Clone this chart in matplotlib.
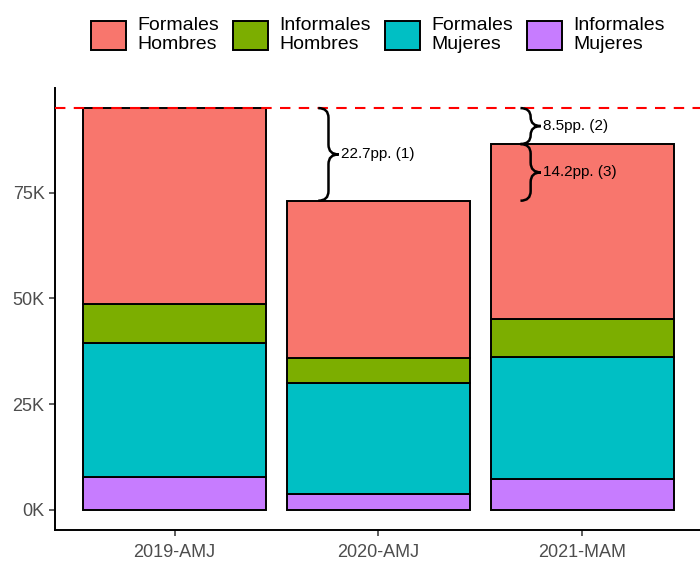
import numpy as np
import matplotlib.pyplot as plt
from matplotlib.path import Path
from matplotlib.patches import PathPatch
from matplotlib.ticker import FuncFormatter

plt.rcParams['font.family'] = ['Liberation Sans', 'DejaVu Sans']

periods = ["2019-AMJ", "2020-AMJ", "2021-MAM"]
# thousands of people, bottom to top of the stack
inf_mujeres = [7.8, 3.8, 7.2]
for_mujeres = [31.7, 26.3, 28.9]
inf_hombres = [9.3, 5.9, 9.0]
for_hombres = [46.2, 37.1, 41.4]
series_names = ["Formales\nHombres", "Informales\nHombres", "Formales\nMujeres", "Informales\nMujeres"]
brace_labels = ["22.7pp. (1)", "8.5pp. (2)", "14.2pp. (3)"]

colors = ["#F8766D", "#7CAE00", "#00BFC4", "#C77CFF"]


def brace(ax, x0, y0, y1, w, r):
    # vertical curly brace, tip pointing right
    xm = x0 + w / 2
    ym = (y0 + y1) / 2
    r = min(r, (y1 - y0) / 4)
    verts = [(x0, y1), (xm, y1), (xm, y1 - r),
             (xm, ym + r),
             (xm, ym), (x0 + w, ym),
             (xm, ym), (xm, ym - r),
             (xm, y0 + r),
             (xm, y0), (x0, y0)]
    codes = [Path.MOVETO, Path.CURVE3, Path.CURVE3,
             Path.LINETO,
             Path.CURVE3, Path.CURVE3,
             Path.CURVE3, Path.CURVE3,
             Path.LINETO,
             Path.CURVE3, Path.CURVE3]
    ax.add_patch(PathPatch(Path(verts, codes), fill=False, lw=1.8, ec="black", zorder=4))


fig = plt.figure(figsize=(7, 5.62), dpi=100)
ax = fig.add_axes([55 / 700, 32 / 562, 645 / 700, 442 / 562])

x = np.arange(len(periods))
layers = [inf_mujeres, for_mujeres, inf_hombres, for_hombres]
layer_cols = [colors[3], colors[2], colors[1], colors[0]]
bottom = np.zeros(len(periods))
for vals, col in zip(layers, layer_cols):
    ax.bar(x, vals, bottom=bottom, width=0.9, color=col, edgecolor="black", linewidth=1.4)
    bottom += np.array(vals)

totals = bottom
ref = totals[0]
ax.axhline(ref, color="#FF0000", ls=(0, (5, 4)), lw=1.5, zorder=3)

bw = 0.1
brace(ax, 0.705, totals[1], ref, bw, 2.3)
ax.text(0.705 + bw + 0.01, (totals[1] + ref) / 2, brace_labels[0], va="center", ha="left", fontsize=11)
brace(ax, 1.697, totals[2], ref, bw, 2.3)
ax.text(1.697 + bw + 0.01, (totals[2] + ref) / 2, brace_labels[1], va="center", ha="left", fontsize=11)
brace(ax, 1.697, totals[1], totals[2], bw, 2.3)
ax.text(1.697 + bw + 0.01, (totals[1] + totals[2]) / 2, brace_labels[2], va="center", ha="left", fontsize=11)

ax.set_xlim(-0.587, 2.578)
ax.set_ylim(-4.75, 99.75)
ax.set_yticks([0, 25, 50, 75])
ax.yaxis.set_major_formatter(FuncFormatter(lambda v, p: f"{v:.0f}K"))
ax.set_xticks(x)
ax.set_xticklabels(periods)
for s in ["top", "right"]:
    ax.spines[s].set_visible(False)
for s in ["left", "bottom"]:
    ax.spines[s].set_linewidth(1.4)
ax.tick_params(axis="both", colors="#333333", labelcolor="#4D4D4D", labelsize=13, length=4, width=1.1)
ax.tick_params(axis="x", pad=6)

leg_handles = [plt.Rectangle((0, 0), 1, 1, fc=c, ec="black", lw=1.4) for c in colors]
leg = fig.legend(leg_handles, series_names, loc="upper center", bbox_to_anchor=(0.54, 1.0), ncol=4,
                 frameon=False, fontsize=14, handlelength=1.8, handleheight=1.95, handletextpad=0.6,
                 columnspacing=0.7, labelspacing=0.1)
for t in leg.get_texts():
    t.set_linespacing(1.15)

fig.savefig("out.png", dpi=100)
